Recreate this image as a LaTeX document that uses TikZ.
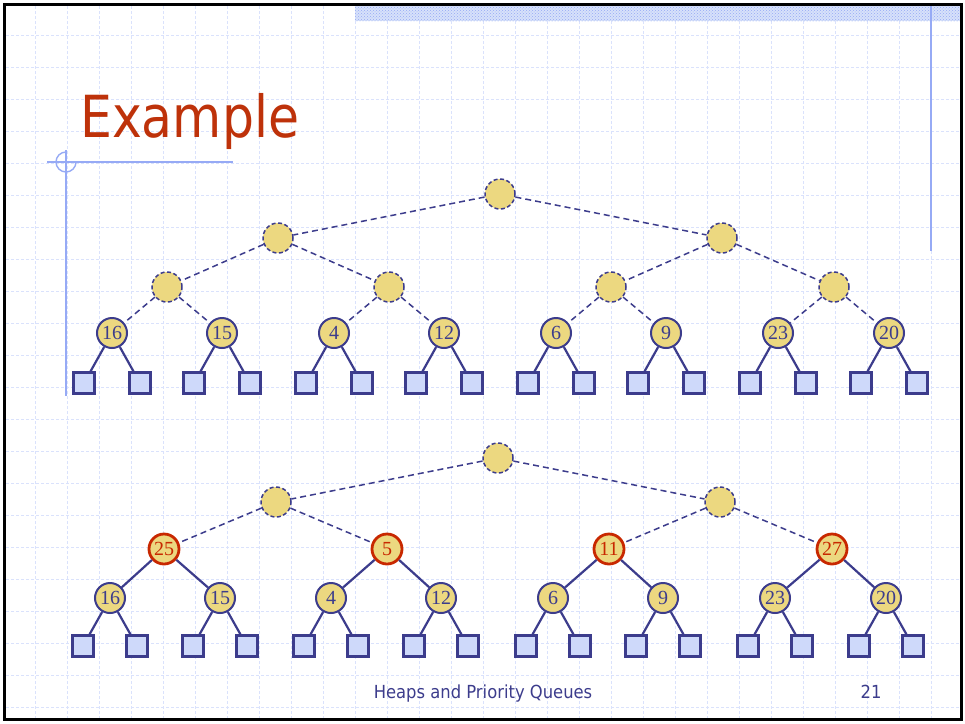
\documentclass[tikz,border=0pt]{standalone}
\usepackage{fontspec}
\setmainfont{Liberation Serif}
\newfontfamily\tahoma{DejaVu Sans}
\usetikzlibrary{patterns}
\definecolor{navy}{RGB}{60,60,140}
\definecolor{nodefill}{RGB}{236,216,128}
\definecolor{leaffill}{RGB}{206,217,250}
\definecolor{redline}{RGB}{200,40,0}
\definecolor{titlered}{RGB}{190,50,10}
\definecolor{gridc}{RGB}{218,226,252}
\definecolor{accent}{RGB}{150,170,245}
\definecolor{bandc}{RGB}{215,225,250}
\begin{document}
\begin{tikzpicture}[x=1pt,y=-1pt,
 inner/.style={circle,draw=navy,fill=nodefill,dash pattern=on 4pt off 2.5pt,line width=1.5pt,minimum size=30pt,inner sep=0pt},
 key/.style={circle,draw=navy,fill=nodefill,solid,line width=2pt,minimum size=30pt,inner sep=0pt,font=\fontsize{20}{20}\selectfont,text=navy},
 redkey/.style={key,draw=redline,line width=2.8pt,text=redline},
 leaf/.style={rectangle,draw=navy,fill=leaffill,line width=2.2pt,minimum size=21pt,inner sep=0pt},
 dedge/.style={draw=navy,line width=1.5pt,dash pattern=on 6pt off 4pt},
 sedge/.style={draw=navy,line width=2.2pt},
 gridline/.style={draw=gridc,line width=1pt,dash pattern=on 3pt off 2pt}]
\useasboundingbox (0,0) rectangle (965,723);
\fill[white] (0,0) rectangle (965,723);
% grid
\foreach \x in {35,67,...,960} \draw[gridline] (\x,6) -- (\x,719);
\foreach \y in {35,67,...,718} \draw[gridline] (6,\y) -- (960,\y);
% band
\fill[bandc] (355,5) rectangle (960,21);
\fill[pattern=crosshatch dots,pattern color=accent] (355,5) rectangle (960,21);
% accent lines
\draw[accent,line width=1.4pt] (931,5) -- (931,251);
\draw[accent,line width=1.4pt] (47,162) -- (233,162);
\draw[accent,line width=1.4pt] (66,150) -- (66,396);
\draw[accent,line width=1.4pt] (66,152) arc[start angle=270,end angle=0,radius=10];
% title
\node[anchor=base west,inner sep=0pt,text=titlered,font=\tahoma\fontsize{58}{58}\selectfont] (title) at (80,137) {\scalebox{0.87}[1]{Example}};
% ---------- top tree ----------
\node[inner] (r) at (500,194) {};
\node[inner] (a0) at (278,238) {};
\node[inner] (a1) at (722,238) {};
\foreach \i/\x in {0/167,1/389,2/611,3/834} \node[inner] (b\i) at (\x,287) {};
\foreach \i/\x/\v in {0/112/16,1/222/15,2/334/4,3/444/12,4/556/6,5/666/9,6/778/23,7/889/20}
  \node[key] (c\i) at (\x,333) {\v};
\foreach \p/\x in {0/112,1/222,2/334,3/444,4/556,5/666,6/778,7/889}{
  \node[leaf] (l\p L) at (\x-28,383) {};
  \node[leaf] (l\p R) at (\x+28,383) {};
  \draw[sedge] (c\p) -- (l\p L);
  \draw[sedge] (c\p) -- (l\p R);
}
\draw[dedge] (r) -- (a0);
\draw[dedge] (r) -- (a1);
\draw[dedge] (a0) -- (b0);
\draw[dedge] (a0) -- (b1);
\draw[dedge] (a1) -- (b2);
\draw[dedge] (a1) -- (b3);
\foreach \i/\p in {0/0,1/0,2/1,3/1,4/2,5/2,6/3,7/3} \draw[dedge] (b\p) -- (c\i);
% ---------- bottom tree ----------
\node[inner] (R) at (498,458) {};
\node[inner] (A0) at (276,502) {};
\node[inner] (A1) at (720,502) {};
\foreach \i/\x/\v in {0/164/25,1/387/5,2/609/11,3/832/27} \node[redkey] (B\i) at (\x,549) {\v};
\foreach \i/\x/\v in {0/110/16,1/220/15,2/331/4,3/441/12,4/553/6,5/663/9,6/775/23,7/886/20}
  \node[key] (C\i) at (\x,598) {\v};
\foreach \p/\x in {0/110,1/220,2/331,3/441,4/553,5/663,6/775,7/886}{
  \node[leaf] (L\p L) at (\x-27,646) {};
  \node[leaf] (L\p R) at (\x+27,646) {};
  \draw[sedge] (C\p) -- (L\p L);
  \draw[sedge] (C\p) -- (L\p R);
}
\draw[dedge] (R) -- (A0);
\draw[dedge] (R) -- (A1);
\draw[dedge] (A0) -- (B0);
\draw[dedge] (A0) -- (B1);
\draw[dedge] (A1) -- (B2);
\draw[dedge] (A1) -- (B3);
\foreach \i/\p in {0/0,1/0,2/1,3/1,4/2,5/2,6/3,7/3} \draw[sedge] (B\p) -- (C\i);
% footer
\node[anchor=base,text=navy,font=\tahoma\fontsize{18}{18}\selectfont,inner sep=0pt] (foot) at (483,698) {\scalebox{0.91}[1]{Heaps and Priority Queues}};
\node[anchor=base,text=navy,font=\tahoma\fontsize{18}{18}\selectfont,inner sep=0pt] (page) at (871,698) {\scalebox{0.91}[1]{21}};
% border
\draw[black,line width=3pt] (4.5,4.5) rectangle (961,719.5);
\end{tikzpicture}
\end{document}
